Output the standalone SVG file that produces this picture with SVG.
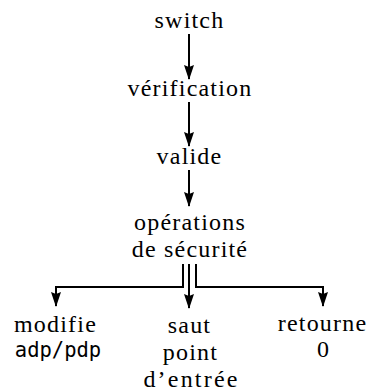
<svg xmlns="http://www.w3.org/2000/svg" width="374" height="392" viewBox="0 0 374 392">
<defs>
<marker id="ah" viewBox="0 0 15 10" refX="14" refY="5" markerWidth="15" markerHeight="10" markerUnits="userSpaceOnUse" orient="auto">
<path d="M0,0 L15,5 L0,10 L2,5 z" fill="#000"/>
</marker>
</defs>
<rect width="374" height="392" fill="#fff"/>
<g id="switch"><text x="189.5" y="28" font-family="Liberation Serif" font-size="24" letter-spacing="1.2" text-anchor="middle">switch</text></g>
<g id="verification"><text x="190" y="96" font-family="Liberation Serif" font-size="24" letter-spacing="1.2" text-anchor="middle">vérification</text></g>
<g id="valide"><text x="189.5" y="164" font-family="Liberation Serif" font-size="24" letter-spacing="1.2" text-anchor="middle">valide</text></g>
<g id="operations"><text x="190" y="230" font-family="Liberation Serif" font-size="24" letter-spacing="1.2" text-anchor="middle">opérations</text><text x="190" y="257" font-family="Liberation Serif" font-size="24" letter-spacing="1.2" text-anchor="middle">de sécurité</text></g>
<g id="modifie"><text x="55.5" y="332" font-family="Liberation Serif" font-size="24" letter-spacing="1.2" text-anchor="middle">modifie</text><text x="58" y="357" font-family="DejaVu Sans Mono" font-size="20.5" text-anchor="middle">adp/pdp</text></g>
<g id="saut"><text x="189.5" y="333" font-family="Liberation Serif" font-size="24" letter-spacing="1.2" text-anchor="middle">saut</text><text x="190.5" y="360" font-family="Liberation Serif" font-size="24" letter-spacing="1.2" text-anchor="middle">point</text><text x="191.5" y="387" font-family="Liberation Serif" font-size="24" letter-spacing="2.2" text-anchor="middle">d’entrée</text></g>
<g id="retourne"><text x="322.5" y="331" font-family="Liberation Serif" font-size="24" letter-spacing="1.2" text-anchor="middle">retourne</text><text x="323" y="357" font-family="Liberation Serif" font-size="24" text-anchor="middle">0</text></g>
<g id="connectors" fill="none" stroke="#000" stroke-width="2">
<line x1="189" y1="34" x2="189" y2="79" marker-end="url(#ah)"/>
<line x1="189" y1="102" x2="189" y2="146" marker-end="url(#ah)"/>
<line x1="189" y1="170" x2="189" y2="206" marker-end="url(#ah)"/>
<path d="M183,264 V287 H56 V306" marker-end="url(#ah)"/>
<line x1="189" y1="264" x2="189" y2="308" marker-end="url(#ah)"/>
<path d="M196,264 V287 H323 V306" marker-end="url(#ah)"/>
</g>
</svg>
